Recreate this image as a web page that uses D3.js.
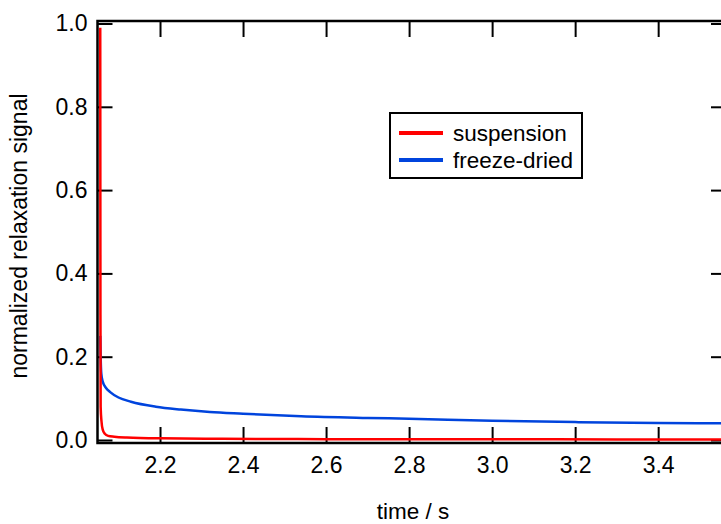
<!DOCTYPE html>
<html>
<head>
<meta charset="utf-8">
<script src="https://cdn.jsdelivr.net/npm/d3@7"></script>
<style>
  body { margin: 0; background: #fff; }
  svg { display: block; font-family: "Liberation Sans", Arial, sans-serif; }
  svg .tick text { font-family: "Liberation Sans", Arial, sans-serif; font-size: 23px; fill: #000; }
</style>
</head>
<body>
<div id="chart"></div>
<script>
// time (s) and normalized signal
const suspT = [2.0560, 2.0565, 2.0570, 2.0590, 2.0620, 2.067, 2.075, 2.09, 2.12, 2.2, 2.35, 2.6, 3.0, 3.3, 3.57];
const suspV = [0.990, 0.300, 0.080, 0.045, 0.025, 0.015, 0.010, 0.008, 0.006, 0.004, 0.003, 0.002, 0.002, 0.0015, 0.0015];

const dryT = [2.0560, 2.0570, 2.0585, 2.062, 2.07, 2.08, 2.10, 2.13, 2.19, 2.25, 2.32, 2.40, 2.54, 2.70, 2.80, 3.0, 3.2, 3.4, 3.57];
const dryV = [0.250, 0.200, 0.160, 0.140, 0.125, 0.115, 0.102, 0.092, 0.080, 0.073, 0.067, 0.063, 0.057, 0.053, 0.051, 0.046, 0.043, 0.041, 0.040];

const seriesNames = ["suspension", "freeze-dried"];
const seriesColors = ["#ff0000", "#0044dd"];

const xTicks = [2.2, 2.4, 2.6, 2.8, 3.0, 3.2, 3.4];
const yTicks = [0.0, 0.2, 0.4, 0.6, 0.8, 1.0];

const width = 721, height = 524;
const fontSize = "22.5px";

const svg = d3.select("#chart").append("svg")
    .attr("width", width)
    .attr("height", height);

const x = d3.scaleLinear().domain([2.0494, 3.561]).range([97.5, 725]);
const y = d3.scaleLinear().domain([-0.0072, 1.006]).range([443, 21]);

const fmt = d3.format(".1f");

// axes with inward ticks
svg.append("g")
    .attr("transform", `translate(0,${y.range()[0]})`)
    .call(d3.axisBottom(x).tickValues(xTicks).tickFormat(fmt).tickSize(-16).tickPadding(14));

svg.append("g")
    .attr("transform", `translate(0,${y.range()[1]})`)
    .call(d3.axisTop(x).tickValues(xTicks).tickFormat("").tickSize(-16));

svg.append("g")
    .attr("transform", `translate(${x.range()[0]},0)`)
    .call(d3.axisLeft(y).tickValues(yTicks).tickFormat(fmt).tickSize(-15).tickPadding(10));

svg.append("g")
    .attr("transform", `translate(${x.range()[1]},0)`)
    .call(d3.axisRight(y).tickValues(yTicks).tickFormat("").tickSize(-14));

svg.selectAll(".domain").remove();
svg.selectAll(".tick line").attr("stroke", "#000").attr("stroke-width", 2);

// frame
svg.append("rect")
    .attr("x", x.range()[0])
    .attr("y", y.range()[1])
    .attr("width", x.range()[1] - x.range()[0])
    .attr("height", y.range()[0] - y.range()[1])
    .attr("fill", "none")
    .attr("stroke", "#000")
    .attr("stroke-width", 2.5);

// data lines
const line = d3.line()
    .x(d => x(d[0]))
    .y(d => y(d[1]))
    .curve(d3.curveMonotoneX);

const dry = dryT.map((t, i) => [t, dryV[i]]);
const susp = suspT.map((t, i) => [t, suspV[i]]);

svg.append("path")
    .datum(dry)
    .attr("d", line)
    .attr("fill", "none")
    .attr("stroke", seriesColors[1])
    .attr("stroke-width", 2.5);

svg.append("path")
    .datum(susp)
    .attr("d", line)
    .attr("fill", "none")
    .attr("stroke", seriesColors[0])
    .attr("stroke-width", 2.5);

// axis titles
svg.append("text")
    .attr("x", 413)
    .attr("y", 519)
    .attr("text-anchor", "middle")
    .style("font-size", fontSize)
    .text("time / s");

svg.append("text")
    .attr("transform", "translate(27,236) rotate(-90)")
    .attr("text-anchor", "middle")
    .style("font-size", "23px")
    .text("normalized relaxation signal");

// legend
const legend = svg.append("g");
legend.append("rect")
    .attr("x", 390).attr("y", 113)
    .attr("width", 192).attr("height", 65)
    .attr("fill", "#fff")
    .attr("stroke", "#000")
    .attr("stroke-width", 2);

seriesNames.forEach((name, i) => {
  const ly = 133 + i * 27;
  legend.append("line")
      .attr("x1", 399).attr("x2", 443)
      .attr("y1", ly).attr("y2", ly)
      .attr("stroke", seriesColors[i])
      .attr("stroke-width", 4);
  legend.append("text")
      .attr("x", 453)
      .attr("y", ly + 8)
      .style("font-size", fontSize)
      .text(name);
});
</script>
</body>
</html>
